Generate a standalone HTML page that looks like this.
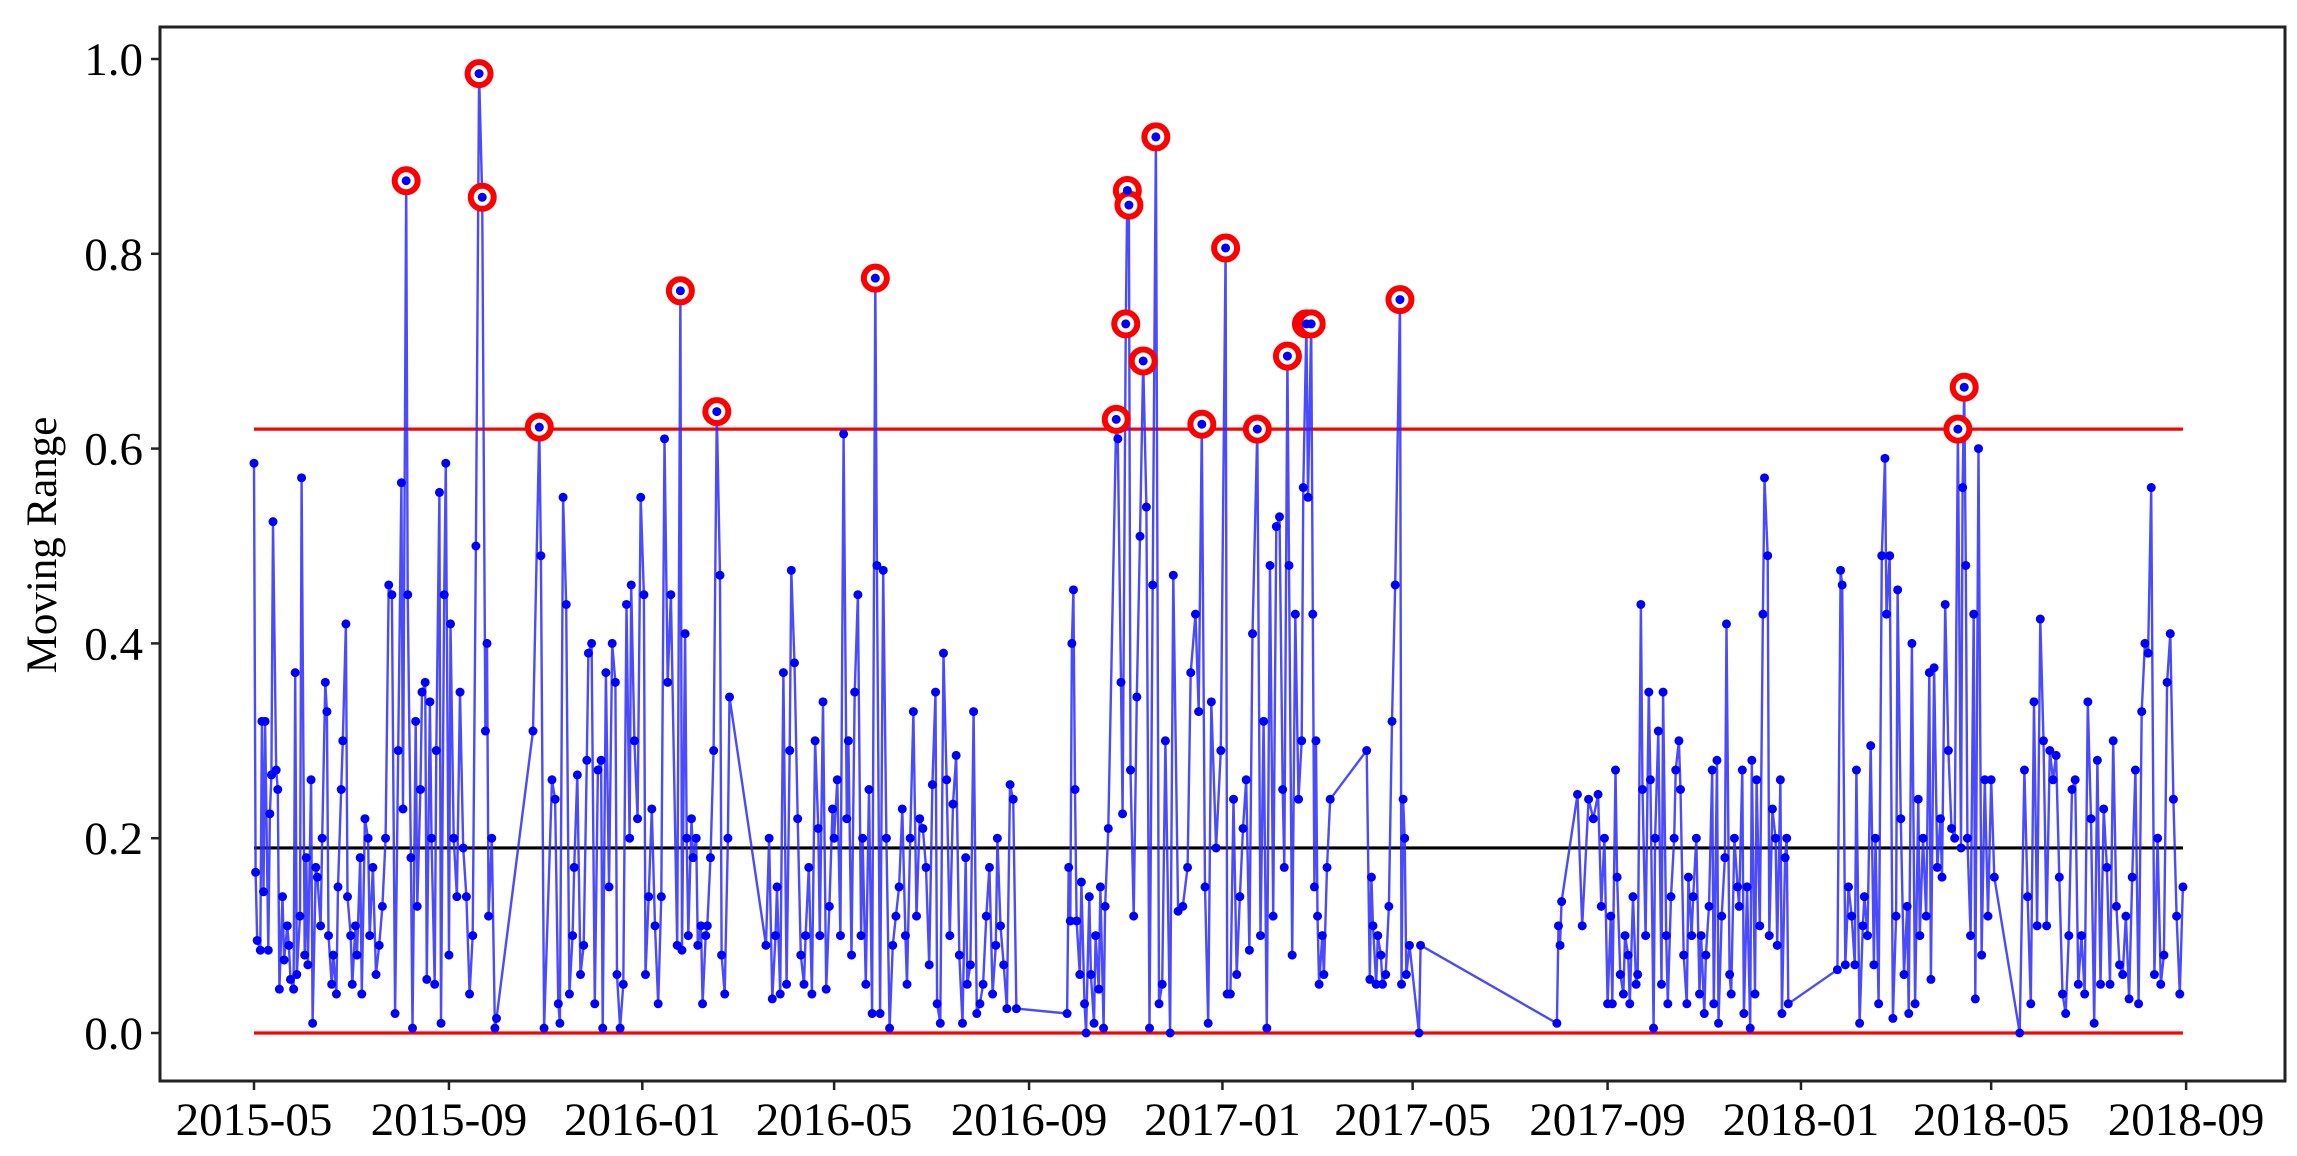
<!DOCTYPE html>
<html><head><meta charset="utf-8"><title>Moving Range Chart</title>
<style>html,body{margin:0;padding:0;background:#fff}svg{display:block}</style></head>
<body>
<svg id="chart" width="2297" height="1156" viewBox="0 0 2297 1156" xmlns="http://www.w3.org/2000/svg" font-family="'Liberation Serif', serif">
<rect x="0" y="0" width="2297" height="1156" fill="#fff"/>
<g id="marks"></g>
<g id="axes"></g>
<text x="0" y="0" transform="translate(56,545) rotate(-90)" text-anchor="middle" font-size="43" fill="#000">Moving Range</text>
</svg>
<script>
// days since 2015-05-01
const days=[
0,1,2,4,5,6,7,9,10,11,12,14,15,16,18,19,21,22,23,25,26,27,29,30,32,33,34,36,37,39,40,42,43,45,46,47,49,50,52,53,55,56,58,59,61,62,64,65,67,68,70,72,73,75,77,79,81,83,85,87,89,91,93,94,96,
97,99,100,102,103,105,106,108,109,111,112,114,115,117,118,120,121,123,124,126,128,130,132,134,136,138,140,142,144,146,147,148,150,152,153,
176,180,181,183,
188,190,192,193,195,197,199,201,202,204,206,208,210,211,213,215,217,219,220,222,224,226,228,229,231,233,235,237,238,240,242,244,246,247,249,251,253,255,257,259,261,263,
267,269,270,272,273,274,276,277,279,280,282,283,285,286,288,290,292,294,295,297,299,300,
323,325,327,329,330,332,334,336,338,339,341,343,345,347,348,350,352,354,356,357,359,361,363,365,366,368,370,372,374,375,377,379,381,383,384,386,388,390,392,
393,395,397,399,401,403,405,407,409,411,412,414,416,418,420,422,424,426,428,430,431,433,435,437,439,441,443,445,447,449,450,452,454,456,458,460,462,464,466,468,469,471,473,475,477,479,481,
513,
514,515,516,517,518,519,521,522,524,525,527,528,530,531,533,534,536,537,539,544,545,547,548,550,551,552,553,555,557,559,561,563,565,567,569,
571,573,575,578,580,583,586,589,591,594,596,598,600,602,604,607,610,613,614,616,618,620,622,624,626,628,630,633,635,637,639,641,643,645,647,649,650,652,653,655,657,659,661,662,664,665,667,668,669,670,671,672,674,675,677,679,
702,704,705,706,708,709,711,712,714,716,718,720,723,724,725,726,727,729,735,736,822,
823,824,825,835,838,842,845,848,850,852,
854,856,857,859,860,862,864,865,867,868,870,872,873,875,876,878,880,881,883,884,886,888,889,891,892,894,896,897,899,900,902,904,905,907,908,910,912,913,915,916,918,920,921,923,924,926,928,929,931,932,934,936,937,939,940,942,944,945,947,948,950,952,953,955,956,958,960,961,963,964,966,967,968,
999,1001,1002,1004,1006,1008,1010,1011,1013,1015,1016,1018,1020,1022,1023,1025,1027,1029,1030,1032,1034,1036,1037,1039,1041,1043,1044,1046,1048,1050,1051,1053,1055,1057,1058,1060,1062,1064,1065,1067,1069,1071,1073,
1075,1077,1078,1079,1080,1081,1083,1085,1086,1088,1090,1092,1094,1096,1098,1114,
1117,1119,1121,1123,1125,1127,1129,1131,1133,1135,1137,1139,1141,1143,1145,1147,1149,1151,1153,1155,1157,1159,1161,1163,1165,1167,1169,1171,1173,1175,1177,1179,1181,1183,1185,1187,1189,1191,1193,1195,1197,1199,1201,1203,1205,1207,1209,1211,1213,1215,1217
];
const movingRange=[
0.585,0.165,0.095,0.085,0.32,0.145,0.32,0.085,0.225,0.265,0.525,0.27,0.25,0.045,0.14,0.075,0.11,0.09,0.055,0.045,0.37,0.06,0.12,0.57,0.08,0.18,0.07,0.26,0.01,0.17,0.16,0.11,0.2,0.36,0.33,0.1,0.05,0.08,0.04,0.15,0.25,0.3,0.42,0.14,0.1,0.05,0.11,0.08,0.18,0.04,0.22,0.2,0.1,0.17,0.06,0.09,0.13,0.2,0.46,0.45,0.02,0.29,0.565,0.23,0.875,
0.45,0.18,0.005,0.32,0.13,0.25,0.35,0.36,0.055,0.34,0.2,0.05,0.29,0.555,0.01,0.45,0.585,0.08,0.42,0.2,0.14,0.35,0.19,0.14,0.04,0.1,0.5,0.985,0.858,0.31,0.4,0.12,0.2,0.005,0.015,
0.31,0.622,0.49,0.005,
0.26,0.24,0.03,0.01,0.55,0.44,0.04,0.1,0.17,0.265,0.06,0.09,0.28,0.39,0.4,0.03,0.27,0.28,0.005,0.37,0.15,0.4,0.36,0.06,0.005,0.05,0.44,0.2,0.46,0.3,0.22,0.55,0.45,0.06,0.14,0.23,0.11,0.03,0.14,0.61,0.36,0.45,
0.09,0.762,0.085,0.41,0.2,0.1,0.22,0.18,0.2,0.09,0.11,0.03,0.1,0.11,0.18,0.29,0.638,0.47,0.08,0.04,0.2,0.345,
0.09,0.2,0.035,0.1,0.15,0.04,0.37,0.05,0.29,0.475,0.38,0.22,0.08,0.05,0.1,0.17,0.04,0.3,0.21,0.1,0.34,0.045,0.13,0.23,0.2,0.26,0.1,0.615,0.22,0.3,0.08,0.35,0.45,0.1,0.2,0.05,0.25,0.02,0.775,
0.48,0.02,0.475,0.2,0.005,0.09,0.12,0.15,0.23,0.1,0.05,0.2,0.33,0.12,0.22,0.21,0.17,0.07,0.255,0.35,0.03,0.01,0.39,0.26,0.1,0.235,0.285,0.08,0.01,0.18,0.05,0.07,0.33,0.02,0.03,0.05,0.12,0.17,0.04,0.09,0.2,0.11,0.07,0.025,0.255,0.24,0.025,
0.02,
0.17,0.115,0.4,0.455,0.25,0.115,0.06,0.155,0.03,0.0,0.14,0.06,0.01,0.1,0.045,0.15,0.005,0.13,0.21,0.63,0.61,0.36,0.225,0.728,0.865,0.85,0.27,0.12,0.345,0.51,0.69,0.54,0.005,0.46,0.92,
0.03,0.05,0.3,0.0,0.47,0.125,0.13,0.17,0.37,0.43,0.33,0.625,0.15,0.01,0.34,0.19,0.29,0.806,0.04,0.04,0.24,0.06,0.14,0.21,0.26,0.085,0.41,0.62,0.1,0.32,0.005,0.48,0.12,0.52,0.53,0.25,0.17,0.695,0.48,0.08,0.43,0.24,0.3,0.56,0.728,0.55,0.728,0.43,0.15,0.3,0.12,0.05,0.1,0.06,0.17,0.24,
0.29,0.055,0.16,0.11,0.05,0.1,0.08,0.05,0.06,0.13,0.32,0.46,0.753,0.05,0.24,0.2,0.06,0.09,0.0,0.09,0.01,
0.11,0.09,0.135,0.245,0.11,0.24,0.22,0.245,0.13,0.2,
0.03,0.12,0.03,0.27,0.16,0.06,0.04,0.1,0.08,0.03,0.14,0.05,0.06,0.44,0.25,0.1,0.35,0.26,0.005,0.2,0.31,0.05,0.35,0.1,0.03,0.14,0.2,0.27,0.3,0.25,0.08,0.03,0.16,0.1,0.14,0.2,0.04,0.1,0.02,0.08,0.13,0.27,0.03,0.28,0.01,0.12,0.18,0.42,0.06,0.04,0.2,0.15,0.13,0.27,0.02,0.15,0.005,0.28,0.04,0.26,0.11,0.43,0.57,0.49,0.1,0.23,0.2,0.09,0.26,0.02,0.18,0.2,0.03,
0.065,0.475,0.46,0.07,0.15,0.12,0.07,0.27,0.01,0.11,0.14,0.1,0.295,0.07,0.2,0.03,0.49,0.59,0.43,0.49,0.015,0.12,0.455,0.22,0.06,0.13,0.02,0.4,0.03,0.24,0.1,0.2,0.12,0.37,0.055,0.375,0.17,0.22,0.16,0.44,0.29,0.21,0.2,
0.62,0.19,0.56,0.663,0.48,0.2,0.1,0.43,0.035,0.6,0.08,0.26,0.12,0.26,0.16,0.0,
0.27,0.14,0.03,0.34,0.11,0.425,0.3,0.11,0.29,0.26,0.285,0.16,0.04,0.02,0.1,0.25,0.26,0.05,0.1,0.04,0.34,0.22,0.01,0.28,0.05,0.23,0.17,0.05,0.3,0.13,0.07,0.06,0.12,0.035,0.16,0.27,0.03,0.33,0.4,0.39,0.56,0.06,0.2,0.05,0.08,0.36,0.41,0.24,0.12,0.04,0.15
];
const centerLine=0.19;
const upperLimit=0.62;
const lowerLimit=0.0;
const yTicks=[0.0,0.2,0.4,0.6,0.8,1.0];
const xTickLabels=["2015-05","2015-09","2016-01","2016-05","2016-09","2017-01","2017-05","2017-09","2018-01","2018-05","2018-09"];
const xTickDays=[0,123,245,366,489,611,731,854,976,1096,1219];

const NS="http://www.w3.org/2000/svg";
const X0=254,PXD=1.585,Y0=1033,PXV=974;
function xs(d){return X0+d*PXD;}
function ys(v){return Y0-v*PXV;}
function mk(tag,attrs,parent){const e=document.createElementNS(NS,tag);for(const k in attrs)e.setAttribute(k,attrs[k]);parent.appendChild(e);return e;}
const marks=document.getElementById('marks');
const axes=document.getElementById('axes');
const n=Math.min(days.length,movingRange.length);
const dFirst=days[0],dLast=days[n-1];

[[lowerLimit,'#ff0000','lcl-line'],[upperLimit,'#ff0000','ucl-line'],[centerLine,'#000000','center-line']].forEach(c=>{
  const l=mk('line',{x1:xs(dFirst),x2:xs(dLast),y1:ys(c[0]),y2:ys(c[0]),stroke:c[1],'stroke-width':3.2},marks);
  
  
});

let pts=[];
for(let i=0;i<n;i++)pts.push(xs(days[i]).toFixed(1)+','+ys(movingRange[i]).toFixed(1));
const pl=mk('polyline',{points:pts.join(' '),fill:'none',stroke:'#2a2aff','stroke-width':2.4,'stroke-opacity':0.85,'stroke-linejoin':'round'},marks);



for(let i=0;i<n;i++){
  if(movingRange[i]>=upperLimit-0.002){
    const r=mk('circle',{cx:xs(days[i]),cy:ys(movingRange[i]),r:11.5,fill:'#fff',stroke:'#ff0000','stroke-width':6},marks);
    
    
  }
}
for(let i=0;i<n;i++){
  const c=mk('circle',{cx:xs(days[i]),cy:ys(movingRange[i]),r:4.5,fill:'#0000ff'},marks);
  
  
}

const fr=mk('rect',{x:160,y:27,width:2125,height:1054,fill:'none',stroke:'#222','stroke-width':3},axes);



yTicks.forEach(v=>{
  const t=mk('line',{x1:151,x2:160,y1:ys(v),y2:ys(v),stroke:'#222','stroke-width':2.5},axes);
  
  
  const tx=mk('text',{x:143,y:ys(v)+16,'text-anchor':'end','font-size':47,fill:'#000'},axes);
  tx.textContent=v.toFixed(1);
  
  
});
xTickDays.forEach((d,i)=>{
  const t=mk('line',{x1:xs(d),x2:xs(d),y1:1081,y2:1090,stroke:'#222','stroke-width':2.5},axes);
  
  
  const tx=mk('text',{x:xs(d),y:1135,'text-anchor':'middle','font-size':47,fill:'#000'},axes);
  tx.textContent=xTickLabels[i];
  
  
});
</script>
</body></html>
